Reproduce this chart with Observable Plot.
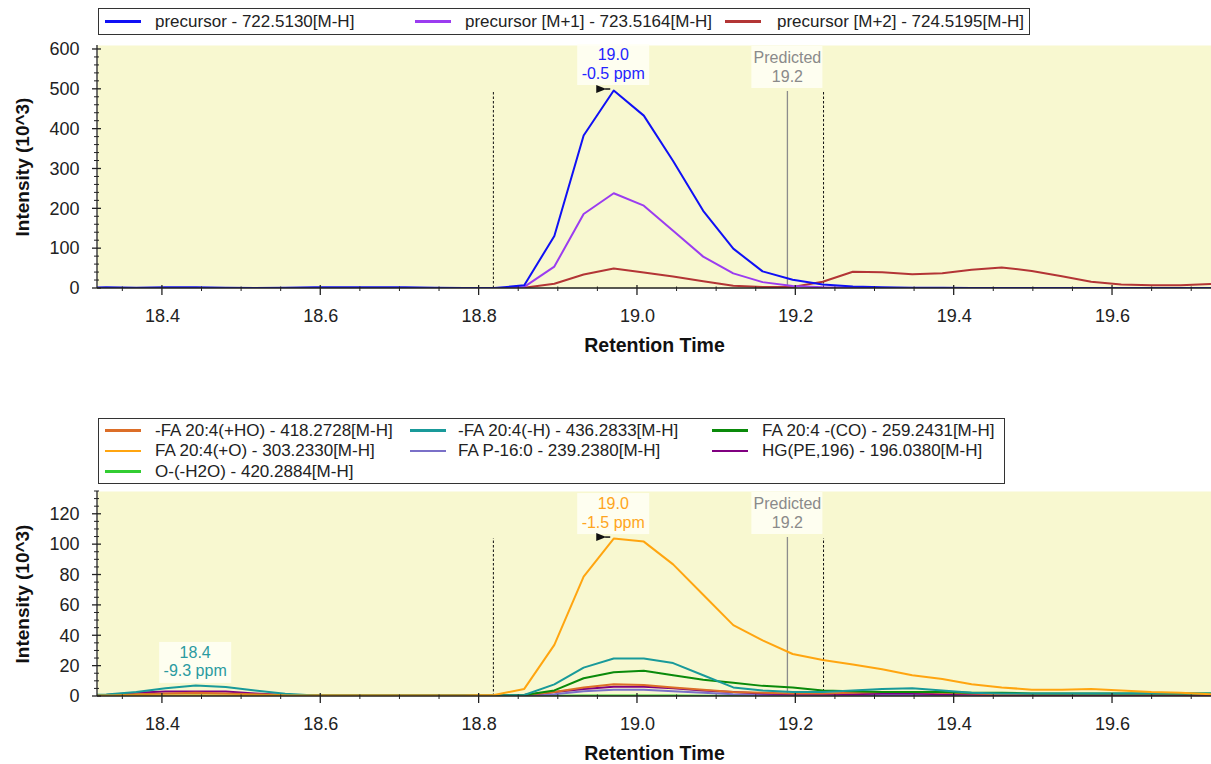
<!DOCTYPE html>
<html><head><meta charset="utf-8">
<script src="https://cdn.jsdelivr.net/npm/d3@7"></script>
<script src="https://cdn.jsdelivr.net/npm/@observablehq/plot@0.6"></script>
<style>
body{margin:0;background:#fff;font-family:"Liberation Sans",Arial,sans-serif;}
#wrap{position:relative;width:1211px;height:764px;overflow:hidden;background:#fff;}
.legend{position:absolute;border:1px solid #333;background:#fff;box-sizing:border-box;z-index:2;}
.item{position:absolute;font-size:17px;color:#222;white-space:nowrap;line-height:20px;}
.swatch{position:absolute;height:2.5px;width:36px;}
.chart{position:absolute;left:0;}
</style></head><body><div id="wrap"></div>
<script>
// ---------- data ----------
const times = [18.291,18.329,18.367,18.404,18.442,18.480,18.517,18.555,18.593,18.631,18.668,18.706,18.744,18.781,18.819,18.857,18.895,18.932,18.970,19.008,19.045,19.083,19.121,19.158,19.196,19.234,19.272,19.309,19.347,19.385,19.422,19.460,19.498,19.536,19.573,19.611,19.649,19.686,19.724];

const topNames = ["precursor - 722.5130[M-H]", "precursor [M+1] - 723.5164[M-H]", "precursor [M+2] - 724.5195[M-H]"];
const topColors = ["#1010f5", "#9b3cf0", "#b33535"];
const precursor = [2,3,2,3,3,2,1,2,3,3,3,3,2,1,1,8,132,384,497,434,320,195,100,43,22,10,5,3,2,2,1.5,1,1,1,1,1,1,1,1];
const precursorM1 = [0,0,0,0,0,0,0,0,0,0,0,0,0,0,0,4,55,187,239,208,145,80,38,16,6,3,2,1,1,1,1,1,1,0,0,0,0,0,0];
const precursorM2 = [0,0,0,0,0,0,0,0,0,0,0,0,0,0,0,2,12,35,50,40,30,18,7,4,4,17,42,41,36,38,47,53,44,31,17,10,8,8,11];

const botNames = ["-FA 20:4(+HO) - 418.2728[M-H]", "-FA 20:4(-H) - 436.2833[M-H]", "FA 20:4 -(CO) - 259.2431[M-H]",
                  "FA 20:4(+O) - 303.2330[M-H]", "FA P-16:0 - 239.2380[M-H]", "HG(PE,196) - 196.0380[M-H]",
                  "O-(-H2O) - 420.2884[M-H]"];
const botColors = ["#dc6e28", "#199a9a", "#0a8a0a", "#ffa510", "#7a70c8", "#800080", "#32cd32"];
const faHO  = [1,1,1.5,2,2.5,2,1.5,1,0.8,0.8,0.8,0.8,0.8,0.8,0.8,1,3,6,8,7.5,6,4.5,3,2.5,2,2,2.5,3,3,2.5,2,1.5,1.5,1.5,1.5,1.5,1.5,1.5,1.5];
const faH   = [1,1.3,2.9,5.5,7.3,6.2,4,1.8,0.7,0.7,0.7,0.7,0.7,0.7,0.7,1,8,19,25,25,22,14,6,4,3,3,4,5,5.5,4,2.5,2,2,2,2,2,2,2,2];
const faCO  = [0.5,0.5,0.5,0.5,0.5,0.5,0.5,0.5,0.5,0.5,0.5,0.5,0.5,0.5,0.5,1,4,12,16,17,14,11,9,7,6,4,3.5,3,3,3,2.5,2.5,2,2,2,2,2,2,2];
const faO   = [0.7,0.7,0.7,0.7,0.7,0.7,0.7,0.7,0.7,0.7,0.7,0.7,0.7,0.7,1,5,34,79,104,102,87,67,47,37,28,24,21,18,14,11.5,8,6,4.5,4.5,5,4,3,2.5,1.5];
const faP16 = [0.3,0.3,0.3,0.3,0.3,0.3,0.3,0.3,0.3,0.3,0.3,0.3,0.3,0.3,0.3,0.5,1.5,3.5,4.5,4.5,3.5,2.5,1.5,1,1,1,1,1,1,1,1,1,1,1,1,1,1,1,1];
const hgPE  = [0.5,1,2.5,3.3,3.3,3.3,2,1,0.5,0.5,0.5,0.5,0.5,0.5,0.5,1,3,5,6.5,6.5,5.5,4,3,2,1.5,1.5,1.5,2,2,1.5,1.5,1,1,1,1,1,1,1,1];
const oH2O  = [0.3,0.3,0.4,0.4,0.5,0.4,0.3,0.3,0.3,0.3,0.3,0.3,0.3,0.3,0.3,0.4,0.5,0.6,0.7,0.7,0.6,0.5,0.4,0.4,0.3,0.3,0.3,0.3,0.3,0.3,0.3,0.3,0.3,0.3,0.3,0.3,0.3,0.3,0.3];

const xMajor = [18.4,18.6,18.8,19.0,19.2,19.4,19.6];
const xMinor = [18.35,18.45,18.5,18.55,18.65,18.7,18.75,18.85,18.9,18.95,19.05,19.1,19.15,19.25,19.3,19.35,19.45,19.5,19.55,19.65,19.7];
const yMajorTop = [0,100,200,300,400,500,600];
const yMinorTop = [20,40,60,80,120,140,160,180,220,240,260,280,320,340,360,380,420,440,460,480,520,540,560,580];
const yMajorBot = [0,20,40,60,80,100,120];
const yMinorBot = [5,10,15,25,30,35,45,50,55,65,70,75,85,90,95,105,110,115,125,130,135];

const windowRT = [18.818, 19.235];
const predictedRT = 19.19;
const xLabel = "Retention Time";
const yLabel = "Intensity (10^3)";

// ---------- helpers ----------
const FONT = '"Liberation Sans", Arial, sans-serif';
const BG = "#f8f8d0";
const table = arr => times.map((t, i) => ({t, v: arr[i]}));

function axisTicks(yMaj, yMin) {
  return (index, scales, values, dims) => {
    const x = scales.x, y = scales.y;
    const g = d3.create("svg:g").attr("stroke", "#222").attr("fill", "none");
    const bottom = dims.height - dims.marginBottom, left = dims.marginLeft;
    const seg = (x1, y1, x2, y2, w) => g.append("line").attr("x1", x1).attr("y1", y1).attr("x2", x2).attr("y2", y2).attr("stroke-width", w);
    seg(left, bottom, dims.width - dims.marginRight, bottom, 1.3);
    seg(left, dims.marginTop, left, bottom, 1.3);
    for (const v of xMajor) seg(x(v), bottom - 3, x(v), bottom + 7, 1.3);
    for (const v of xMinor) seg(x(v), bottom - 1.5, x(v), bottom + 3, 1);
    for (const v of yMaj) seg(left - 5, y(v), left + 4, y(v), 1.3);
    for (const v of yMin) seg(left - 3, y(v), left + 2, y(v), 1);
    return g.node();
  };
}

function twoLines(g, cx, top, lines, color) {
  lines.forEach((s, i) => g.append("text").attr("text-anchor", "middle")
    .attr("font-family", FONT).attr("font-size", 16).attr("fill", color)
    .attr("x", cx).attr("y", top + 16 + i * 18.5).text(s));
}

function peakLabel(t, v, lines, color, gap, arrow) {
  return (index, scales) => {
    const cx = scales.x(t), py = scales.y(v);
    const w = 72, h = 41, top = py - gap - h;
    const g = d3.create("svg:g");
    g.append("rect").attr("x", cx - w / 2).attr("y", top).attr("width", w).attr("height", h)
      .attr("fill", "#fffff6").attr("fill-opacity", 0.85);
    twoLines(g, cx, top, lines, color);
    if (arrow) {
      g.append("path").attr("d", `M${cx - 17},${py - 5}L${cx - 7},${py - 1}L${cx - 17},${py + 3}Z`).attr("fill", "#111");
      g.append("line").attr("x1", cx - 8).attr("x2", cx - 3).attr("y1", py - 1).attr("y2", py - 1).attr("stroke", "#111").attr("stroke-width", 1.5);
    }
    return g.node();
  };
}

function predictedMark(rt) {
  return (index, scales, values, dims) => {
    const cx = scales.x(rt);
    const top = dims.marginTop + 1, h = 42;
    const bottom = dims.height - dims.marginBottom;
    const g = d3.create("svg:g");
    g.append("line").attr("x1", cx).attr("x2", cx).attr("y1", top + h + 3).attr("y2", bottom)
      .attr("stroke", "#8c8c8c").attr("stroke-width", 1.3);
    g.append("rect").attr("x", cx - 36).attr("y", top).attr("width", 71).attr("height", h)
      .attr("fill", "#fffff6").attr("fill-opacity", 0.85);
    twoLines(g, cx, top + 1, ["Predicted", d3.format(".1f")(rt)], "#8a8a8a");
    return g.node();
  };
}

function peakOf(arr, lo, hi) {
  let best = -1;
  times.forEach((t, i) => { if (t >= lo && t <= hi && (best < 0 || arr[i] > arr[best])) best = i; });
  return {t: times[best], v: arr[best]};
}

function chart({height, marginTop, marginBottom, yDomain, yMaj, yMin, series, colors, annotations, windowTop}) {
  return Plot.plot({
    width: 1211, height, marginLeft: 97, marginRight: 0, marginTop, marginBottom,
    style: {fontFamily: FONT, background: "transparent", color: "#222", overflow: "visible"},
    x: {domain: [18.318, 19.725], label: null},
    y: {domain: yDomain, label: null},
    marks: [
      Plot.frame({fill: BG, stroke: null}),
      Plot.axisX({ticks: xMajor, tickSize: 0, tickPadding: 21, tickFormat: d3.format(".1f"), fontSize: 18, label: null}),
      Plot.axisY({ticks: yMaj, tickSize: 0, tickPadding: 18, fontSize: 18, label: null}),
      Plot.ruleX(windowRT, {y1: 0, y2: windowTop, stroke: "#111", strokeWidth: 1, strokeDasharray: "2.5,2"}),
      predictedMark(predictedRT),
      ...series.map((arr, i) => Plot.line(table(arr), {x: "t", y: "v", stroke: colors[i], strokeWidth: 2, clip: true})),
      axisTicks(yMaj, yMin),
      ...annotations,
      Plot.text([xLabel], {frameAnchor: "bottom", dy: 57, text: d => d, fontSize: 19.5, fontWeight: "bold", fill: "#111", textAnchor: "middle", lineAnchor: "middle"}),
      Plot.text([yLabel], {frameAnchor: "left", dx: -75, rotate: -90, text: d => d, fontSize: 19, fontWeight: "bold", fill: "#111", textAnchor: "middle", lineAnchor: "middle"})
    ]
  });
}

// ---------- top chart ----------
const topSeries = [precursorM2, precursorM1, precursor];
const topSeriesColors = [topColors[2], topColors[1], topColors[0]];
const pTop = peakOf(precursor, windowRT[0], windowRT[1]);
const topChart = chart({
  height: 360, marginTop: 45, marginBottom: 72, yDomain: [0, 610],
  yMaj: yMajorTop, yMin: yMinorTop, series: topSeries, colors: topSeriesColors, windowTop: pTop.v,
  annotations: [peakLabel(pTop.t, pTop.v, [d3.format(".1f")(pTop.t), "-0.5 ppm"], "#2424ff", 5, true)]
});

// ---------- bottom chart ----------
const botSeries = [oH2O, faP16, hgPE, faHO, faCO, faH, faO];
const botSeriesColors = [botColors[6], botColors[4], botColors[5], botColors[0], botColors[2], botColors[1], botColors[3]];
const pBot = peakOf(faO, windowRT[0], windowRT[1]);
const pEarly = peakOf(faH, 18.3, 18.6);
const botChart = chart({
  height: 324, marginTop: 51, marginBottom: 68, yDomain: [0, 135],
  yMaj: yMajorBot, yMin: yMinorBot, series: botSeries, colors: botSeriesColors, windowTop: pBot.v,
  annotations: [
    peakLabel(pBot.t, pBot.v, [d3.format(".1f")(pBot.t), "-1.5 ppm"], "#ffa520", 4, true),
    peakLabel(pEarly.t, pEarly.v, [d3.format(".1f")(pEarly.t), "-9.3 ppm"], "#2a9aa0", 2, false)
  ]
});

// ---------- assemble ----------
const wrap = d3.select("#wrap");
topChart.classList.add("chart"); topChart.style.top = "0px";
botChart.classList.add("chart"); botChart.style.top = "440px";
wrap.node().append(topChart, botChart);

function legend(names, colors, box, cols, rows) {
  const L = wrap.append("div").attr("class", "legend")
    .style("left", box[0] + "px").style("top", box[1] + "px").style("width", box[2] + "px").style("height", box[3] + "px");
  names.forEach((n, i) => {
    const c = i % cols.length, r = Math.floor(i / cols.length);
    L.append("div").attr("class", "swatch").style("left", cols[c][0] + "px").style("top", (rows[r] - 1.25) + "px").style("background", colors[i]);
    L.append("div").attr("class", "item").style("left", cols[c][1] + "px").style("top", (rows[r] - 10) + "px").text(n);
  });
}
legend(topNames, topColors, [98, 8, 932, 27], [[6, 56], [316, 366], [626, 678]], [12.5]);
legend(botNames, botColors, [98, 418, 907, 66], [[6, 56], [311, 359], [613, 663]], [11.5, 32, 52.5]);
</script></body></html>
